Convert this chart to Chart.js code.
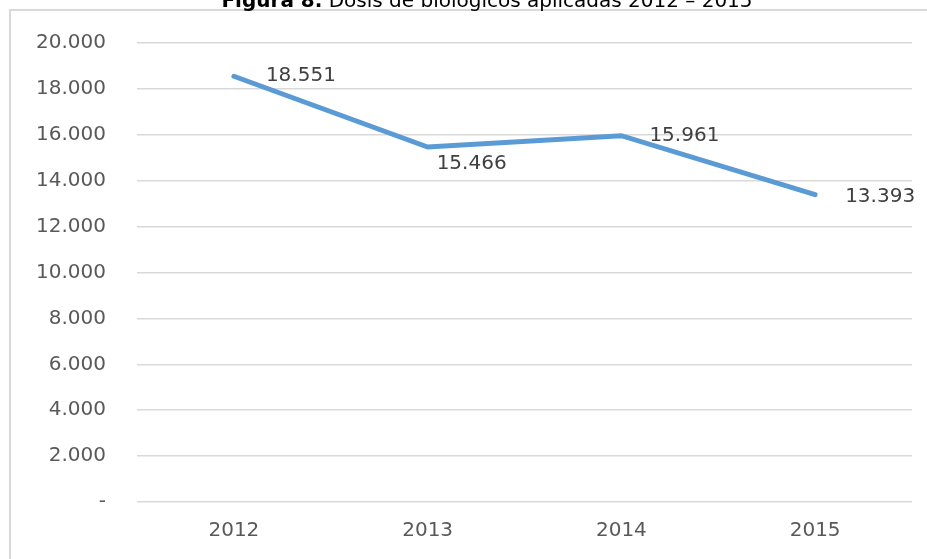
<!DOCTYPE html>
<html>
<head>
<meta charset="utf-8">
<script src="https://cdn.jsdelivr.net/npm/chart.js@4.4.1/dist/chart.umd.min.js"></script>
<style>
    html, body { margin: 0; padding: 0; background: #fff; overflow: hidden; width: 927px; height: 559px; }
    #dosisChart { display: block; position: absolute; left: 0; top: 0; }
</style>
</head>
<body>
<canvas id="dosisChart" width="927" height="559"></canvas>
<script>
// Dosis de biológicos aplicadas por año
const years = ['2012', '2013', '2014', '2015'];
const dosis = [18551, 15466, 15961, 13393];
const yTicks = [0, 2000, 4000, 6000, 8000, 10000, 12000, 14000, 16000, 18000, 20000];

const FONT = '"DejaVu Sans", Verdana, sans-serif';
// wanted plot box
const AREA = { left: 137, top: 39, right: 912, bottom: 502 };

// es-CO style thousands separator, zero shown as a dash
function fmt(v) {
    if (v === 0) return '-';
    return Math.round(v).toString().replace(/\B(?=(\d{3})+(?!\d))/g, '.');
}

// Frame lines (left and top only) and the title sitting above the box
const framePlugin = {
    id: 'frame',
    beforeDraw(chart) {
        const ctx = chart.ctx;
        ctx.save();
        ctx.fillStyle = '#fff';
        ctx.fillRect(0, 0, chart.width, chart.height);
        ctx.fillStyle = '#d9d9d9';
        ctx.fillRect(9, 9, 2, chart.height - 9);
        ctx.fillRect(9, 9, chart.width - 9, 2);
        ctx.restore();
    },
    afterDraw(chart) {
        const ctx = chart.ctx;
        const bold = 'bold 20px ' + FONT;
        const normal = '20px ' + FONT;
        const part1 = 'Figura 8.';
        const part2 = ' Dosis de biológicos aplicadas 2012 – 2015';
        ctx.save();
        ctx.font = bold;
        const w1 = ctx.measureText(part1).width;
        ctx.font = normal;
        const w2 = ctx.measureText(part2).width;
        const x = 487 - (w1 + w2) / 2;
        const y = 7;
        ctx.fillStyle = '#000';
        ctx.textBaseline = 'alphabetic';
        ctx.textAlign = 'left';
        ctx.font = bold;
        ctx.fillText(part1, x, y);
        ctx.font = normal;
        ctx.fillText(part2, x + w1, y);
        ctx.restore();
    }
};

// Value labels next to each point
const labelOffsets = [[32, 0], [9, 17], [28, 0], [30, 2]];
const valueLabels = {
    id: 'valueLabels',
    afterDatasetsDraw(chart) {
        const ctx = chart.ctx;
        const meta = chart.getDatasetMeta(0);
        ctx.save();
        ctx.font = '20px ' + FONT;
        ctx.fillStyle = '#404040';
        ctx.textAlign = 'left';
        ctx.textBaseline = 'middle';
        meta.data.forEach((pt, i) => {
            const off = labelOffsets[i];
            ctx.fillText(fmt(dosis[i]), pt.x + off[0], pt.y + off[1]);
        });
        ctx.restore();
    }
};

const ctx = document.getElementById('dosisChart');
const dosisChart = new Chart(ctx, {
    type: 'line',
    data: {
        labels: years,
        datasets: [{
            label: 'Dosis',
            data: dosis,
            borderColor: '#5b9bd5',
            borderWidth: 5,
            borderCapStyle: 'round',
            borderJoinStyle: 'miter',
            fill: false,
            tension: 0,
            pointRadius: 0,
            pointHoverRadius: 0
        }]
    },
    options: {
        responsive: false,
        animation: false,
        devicePixelRatio: 1,
        layout: { padding: { top: 36, right: 15, left: 0, bottom: 0 } },
        plugins: {
            legend: { display: false },
            title: { display: false },
            tooltip: { enabled: false }
        },
        scales: {
            y: {
                min: 0,
                max: 20000,
                afterBuildTicks(scale) {
                    scale.ticks = yTicks.map(v => ({ value: v }));
                },
                afterFit(scale) { scale.width = 137; },
                border: { display: false },
                grid: { color: '#d9d9d9', lineWidth: 1.5, drawTicks: false },
                ticks: {
                    padding: 31,
                    color: '#595959',
                    font: { family: FONT, size: 20 },
                    callback: v => fmt(v)
                }
            },
            x: {
                offset: true,
                afterFit(scale) { scale.height = 57; },
                border: { display: false },
                grid: { display: false },
                ticks: {
                    padding: 9,
                    color: '#595959',
                    font: { family: FONT, size: 20 },
                    maxRotation: 0
                }
            }
        }
    },
    plugins: [framePlugin, valueLabels]
});

// nudge the layout padding so the plot box lands where we want it
const pad = dosisChart.options.layout.padding;
const area = dosisChart.chartArea;
pad.top += AREA.top - area.top;
pad.left += AREA.left - area.left;
pad.right += area.right - AREA.right;
pad.bottom += area.bottom - AREA.bottom;
dosisChart.update();
</script>
</body>
</html>
